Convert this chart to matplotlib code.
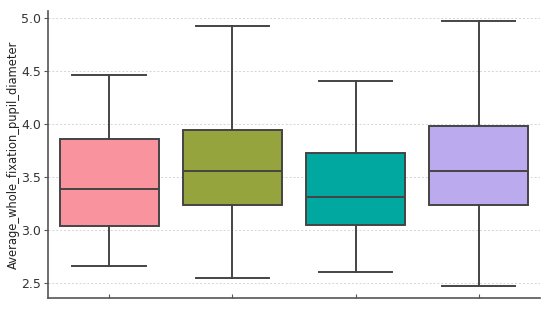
import matplotlib
matplotlib.use("Agg")
import matplotlib.pyplot as plt

# box statistics (one entry per group)
groups = ["1", "2", "3", "4"]
whisker_low = [2.66, 2.55, 2.60, 2.47]
q1 = [3.04, 3.24, 3.05, 3.24]
median = [3.39, 3.56, 3.31, 3.56]
q3 = [3.86, 3.94, 3.73, 3.98]
whisker_high = [4.46, 4.93, 4.41, 4.97]
colors = ["#f9949f", "#95a43c", "#00a89f", "#bcaaef"]

y_ticks = [2.5, 3.0, 3.5, 4.0, 4.5, 5.0]

line_c = "#444444"

stats = []
for i, g in enumerate(groups):
    stats.append({
        "label": g,
        "whislo": whisker_low[i],
        "q1": q1[i],
        "med": median[i],
        "q3": q3[i],
        "whishi": whisker_high[i],
        "fliers": [],
    })

fig = plt.figure(figsize=(5.5, 3.09), dpi=100)
ax = fig.add_axes([0.087, 0.036, 0.895, 0.928])

lp = dict(color=line_c, linewidth=1.4)
bp = ax.bxp(stats, positions=range(len(groups)), widths=0.8, patch_artist=True,
            showfliers=False, boxprops=dict(edgecolor=line_c, linewidth=1.4),
            medianprops=lp, whiskerprops=lp, capprops=lp)
for patch, c in zip(bp["boxes"], colors):
    patch.set_facecolor(c)
for cap in bp["caps"]:
    x = cap.get_xdata()
    mid = (x[0] + x[1]) / 2
    cap.set_xdata([mid - 0.3, mid + 0.3])

ax.set_xlim(-0.5, 3.5)
ax.set_ylim(2.36, 5.066)
ax.set_yticks(y_ticks)
ax.set_xticklabels([])
ax.yaxis.grid(True, linestyle=(0, (2, 2)), color="#d4d4d4", linewidth=0.7)
ax.set_axisbelow(True)
ax.set_ylabel("Average_whole_fixation_pupil_diameter", fontsize=8.3,
              color="#222222")
ax.yaxis.set_label_coords(-0.056, 0.5)
ax.tick_params(axis="y", labelsize=9, labelcolor="#333333", length=3,
               pad=2, color="#555555")
ax.tick_params(axis="x", direction="in", length=3, color="#555555")
for s in ["top", "right"]:
    ax.spines[s].set_visible(False)
for s in ["left", "bottom"]:
    ax.spines[s].set_color("#555555")
    ax.spines[s].set_linewidth(1.2)

fig.savefig("out.png", dpi=100)
